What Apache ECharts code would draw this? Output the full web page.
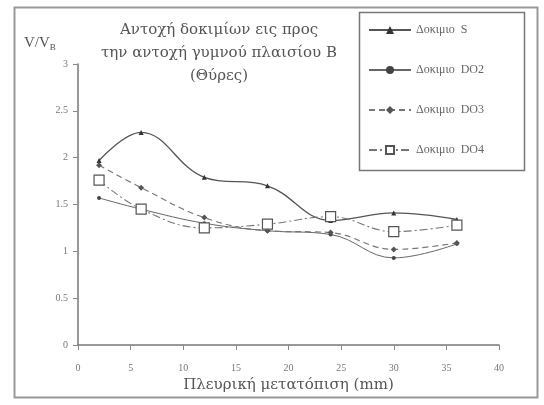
<!DOCTYPE html>
<html><head><meta charset="utf-8">
<script src="https://cdn.jsdelivr.net/npm/echarts@6/dist/echarts.min.js"></script>
<style>html,body{margin:0;padding:0;background:#fff}#c{width:544px;height:405px}</style>
</head><body><div id="c"></div>
<script>
var xValues = [2, 6, 12, 18, 24, 30, 36];
var seriesNames = ['Δοκιμιο  S', 'Δοκιμιο  DO2', 'Δοκιμιο  DO3', 'Δοκιμιο  DO4'];
var valS = [1.97, 2.27, 1.79, 1.70, 1.33, 1.41, 1.34];
var valDO2 = [1.57, 1.45, 1.30, 1.22, 1.18, 0.93, 1.08];
var valDO3 = [1.92, 1.68, 1.36, 1.22, 1.20, 1.02, 1.09];
var valDO4 = [1.76, 1.45, 1.25, 1.29, 1.37, 1.21, 1.28];
var titleLines = ['Αντοχή δοκιμίων εις προς', 'την αντοχή γυμνού πλαισίου Β', '(Θύρες)'];
var xName = 'Πλευρική μετατόπιση (mm)';

function pairs(v){ return xValues.map(function(x,i){return [x, v[i]];}); }
var font = '"Liberation Serif", "DejaVu Serif", serif';
var wide = '"DejaVu Serif", serif';
var chart = echarts.init(document.getElementById('c'));
chart.setOption({
  animation:false,
  backgroundColor:'#fff',
  textStyle:{fontFamily:font},
  title:{
    text: titleLines.join('\n'),
    left: 214, top: 14, textAlign:'center',
    textStyle:{fontFamily:wide, fontSize:15, fontWeight:'normal', color:'#555', lineHeight:23}
  },
  legend:{
    orient:'vertical', left:368, top:24, padding:0, itemGap:28, itemWidth:42, itemHeight:10,
    textStyle:{fontFamily:font, fontSize:12, color:'#666'},
    data: seriesNames
  },
  grid:{left:78, right:45, top:64, bottom:60},
  xAxis:{
    type:'value', min:0, max:40, interval:5,
    axisLine:{lineStyle:{color:'#777', width:1.5}},
    axisTick:{show:true, length:5, lineStyle:{color:'#888'}},
    axisLabel:{fontFamily:font, fontSize:10, color:'#777', margin:18},
    splitLine:{show:false},
    name: xName, nameLocation:'middle', nameGap:31,
    nameTextStyle:{fontFamily:wide, fontSize:15, color:'#555'}
  },
  yAxis:{
    type:'value', min:0, max:3, interval:0.5,
    axisLine:{show:true, lineStyle:{color:'#777', width:1.5}},
    axisTick:{show:true, length:5, lineStyle:{color:'#888'}},
    axisLabel:{fontFamily:font, fontSize:10, color:'#777', margin:10},
    splitLine:{show:false}
  },
  graphic:[
    {type:'rect', left:12, top:5, shape:{width:523, height:390}, style:{fill:'none', stroke:'#999', lineWidth:2}, silent:true},
    {type:'rect', left:357, top:10, shape:{width:165, height:158}, style:{fill:'none', stroke:'#777', lineWidth:1.5}, silent:true},
    {type:'text', left:24, top:36, style:{
      text:'{a|V/V}{b|B}', rich:{a:{fontFamily:font, fontSize:15, fill:'#555'}, b:{fontFamily:font, fontSize:9, fill:'#555', verticalAlign:'bottom', padding:[8,0,0,0]}}
    }}
  ],
  series:[
    {name:seriesNames[0], type:'line', smooth:0.4, data:pairs(valS),
     symbol:'triangle', symbolSize:5, lineStyle:{color:'#555', width:1.3}, itemStyle:{color:'#333'}},
    {name:seriesNames[1], type:'line', smooth:0.4, data:pairs(valDO2),
     symbol:'circle', symbolSize:4, lineStyle:{color:'#666', width:1}, itemStyle:{color:'#444'}},
    {name:seriesNames[2], type:'line', smooth:0.4, data:pairs(valDO3),
     symbol:'diamond', symbolSize:6, lineStyle:{color:'#777', width:1.2, type:[6,4]}, itemStyle:{color:'#555'}},
    {name:seriesNames[3], type:'line', smooth:0.4, data:pairs(valDO4),
     symbol:'rect', symbolSize:10, lineStyle:{color:'#777', width:1.1, type:[8,3,2,3]}, itemStyle:{color:'#fff', borderColor:'#555', borderWidth:1.2}}
  ]
});
</script></body></html>
